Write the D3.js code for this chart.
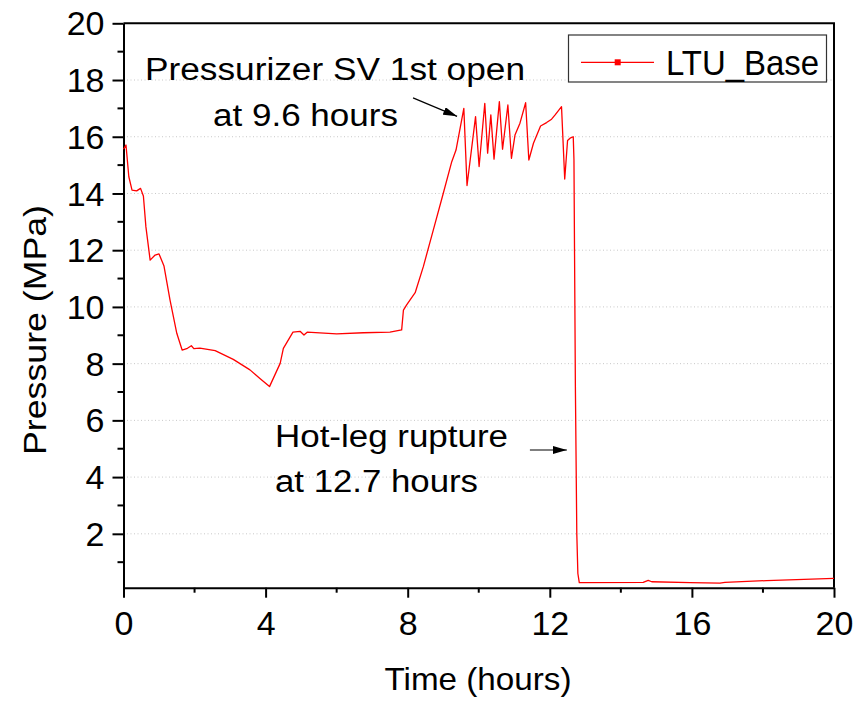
<!DOCTYPE html>
<html>
<head>
<meta charset="utf-8">
<script src="https://cdn.jsdelivr.net/npm/d3@7"></script>
<style>
  html, body { margin: 0; padding: 0; background: #fff; }
  svg { display: block; }
  text { font-family: "Liberation Sans", Arial, Helvetica, sans-serif; fill: #000; }
</style>
</head>
<body>
<svg id="chart" width="866" height="701"></svg>
<script>
// Pressurizer pressure history, LTU_Base case
const seriesName = "LTU_Base";
const timeHours = [
  0.00, 0.07, 0.15, 0.24, 0.37, 0.48, 0.56, 0.63, 0.75, 0.89,
  1.00, 1.14, 1.31, 1.50, 1.65, 1.80, 1.91, 1.98, 2.15, 2.58,
  3.09, 3.56, 3.84, 4.11, 4.41, 4.50, 4.77, 4.97, 5.08, 5.17,
  6.00, 6.75, 7.50, 7.83, 7.88, 7.97, 8.21, 8.44, 8.72, 9.00,
  9.24, 9.36, 9.58, 9.67, 9.91, 10.01, 10.17, 10.25, 10.34, 10.43,
  10.58, 10.67, 10.82, 10.92, 11.02, 11.16, 11.32, 11.41, 11.54, 11.74,
  11.91, 12.05, 12.15, 12.33, 12.42, 12.50, 12.57, 12.66, 12.68, 12.72,
  12.76, 12.79, 12.83, 14.63, 14.77, 14.87, 15.95, 16.79, 16.93, 18.10,
  20.00
];
const pressureMPa = [
  15.56, 15.71, 14.59, 14.12, 14.09, 14.18, 13.91, 12.83, 11.65, 11.83,
  11.87, 11.44, 10.24, 9.07, 8.48, 8.54, 8.63, 8.53, 8.55, 8.46,
  8.15, 7.78, 7.48, 7.19, 8.01, 8.54, 9.11, 9.14, 9.01, 9.11,
  9.05, 9.09, 9.11, 9.19, 9.89, 10.07, 10.50, 11.42, 12.71, 14.00,
  15.12, 15.53, 17.00, 14.28, 16.71, 14.95, 17.18, 15.42, 16.77, 15.21,
  17.24, 15.56, 17.12, 15.24, 16.06, 16.48, 17.20, 15.18, 15.77, 16.38,
  16.50, 16.62, 16.77, 17.06, 14.51, 15.87, 15.95, 16.00, 15.20, 7.20,
  2.00, 0.60, 0.28, 0.29, 0.36, 0.31, 0.28, 0.26, 0.29, 0.35,
  0.43
];
const xTicks = [0, 4, 8, 12, 16, 20];
const xMinorTicks = [2, 6, 10, 14, 18];
const yTicks = [2, 4, 6, 8, 10, 12, 14, 16, 18, 20];
const yMinorTicks = [1, 3, 5, 7, 9, 11, 13, 15, 17, 19];
const xTitle = "Time (hours)";
const yTitle = "Pressure (MPa)";
const svNote = ["Pressurizer SV 1st open", "at 9.6 hours"];
const ruptureNote = ["Hot-leg rupture", "at 12.7 hours"];

const svg = d3.select("#chart");
const plotL = 123.5, plotR = 834, plotT = 23.3, plotB = 587.7;

const x = d3.scaleLinear().domain([0, 20]).range([plotL, plotR]);
const y = d3.scaleLinear().domain([0.1, 20]).range([plotB, plotT]);

const defs = svg.append("defs");
defs.append("marker")
  .attr("id", "arrowHead")
  .attr("viewBox", "0 0 14 8")
  .attr("refX", 14).attr("refY", 4)
  .attr("markerWidth", 14).attr("markerHeight", 8)
  .attr("markerUnits", "userSpaceOnUse")
  .attr("orient", "auto")
  .append("path").attr("d", "M0,0 L14,4 L0,8 Z").attr("fill", "#000");

// dotted horizontal grid
svg.append("g")
  .selectAll("line")
  .data(yTicks.filter(v => v < 20))
  .join("line")
  .attr("x1", plotL).attr("x2", plotR)
  .attr("y1", d => y(d)).attr("y2", d => y(d))
  .attr("stroke", "#c8c8c8")
  .attr("stroke-width", 1)
  .attr("stroke-dasharray", "1,2.5");

// frame (top and right)
svg.append("path")
  .attr("d", `M${plotL},${plotT} H${plotR} V${plotB}`)
  .attr("fill", "none").attr("stroke", "#000").attr("stroke-width", 2);

// bottom axis
const xAxis = svg.append("g").attr("transform", `translate(0,${plotB})`)
  .call(d3.axisBottom(x).tickValues(xTicks).tickSize(10).tickSizeOuter(0).tickPadding(13));
xAxis.append("g").selectAll("line").data(xMinorTicks).join("line")
  .attr("x1", d => x(d)).attr("x2", d => x(d))
  .attr("y1", 0).attr("y2", 5)
  .attr("stroke", "#000").attr("stroke-width", 2);

// left axis
const yAxis = svg.append("g").attr("transform", `translate(${plotL},0)`)
  .call(d3.axisLeft(y).tickValues(yTicks).tickSize(11).tickSizeOuter(0).tickPadding(8));
yAxis.append("g").selectAll("line").data(yMinorTicks).join("line")
  .attr("x1", 0).attr("x2", -6)
  .attr("y1", d => y(d)).attr("y2", d => y(d))
  .attr("stroke", "#000").attr("stroke-width", 2);

[xAxis, yAxis].forEach(g => {
  g.select(".domain").attr("stroke-width", 2);
  g.selectAll(".tick line").attr("stroke-width", 2);
  g.selectAll(".tick text").attr("font-size", 34)
    .attr("font-family", "'Liberation Sans', Arial, sans-serif").attr("fill", "#000");
});
xAxis.selectAll(".tick text").attr("dy", "0.71em");
yAxis.selectAll(".tick text").attr("dy", "0.34em");

// axis titles
svg.append("text")
  .attr("x", 478).attr("y", 690)
  .attr("text-anchor", "middle")
  .attr("font-size", 32)
  .attr("textLength", 187).attr("lengthAdjust", "spacingAndGlyphs")
  .text(xTitle);

svg.append("text")
  .attr("transform", "translate(46,330) rotate(-90)")
  .attr("text-anchor", "middle")
  .attr("font-size", 31)
  .attr("textLength", 250).attr("lengthAdjust", "spacingAndGlyphs")
  .text(yTitle);

// pressure curve
const pts = timeHours.map((t, i) => [t, pressureMPa[i]]);
svg.append("path")
  .datum(pts)
  .attr("fill", "none")
  .attr("stroke", "#ff0000")
  .attr("stroke-width", 1.3)
  .attr("stroke-linejoin", "round")
  .attr("d", d3.line().x(d => x(d[0])).y(d => y(d[1])));

// annotations
function note(lines, x0, baselines, widths) {
  lines.forEach((s, i) => {
    svg.append("text")
      .attr("x", x0[i]).attr("y", baselines[i])
      .attr("font-size", 31)
      .attr("textLength", widths[i]).attr("lengthAdjust", "spacingAndGlyphs")
      .text(s);
  });
}
note(svNote, [145, 213], [80, 126], [380, 185]);
note(ruptureNote, [275, 275], [447, 492], [233, 203]);

svg.append("line")
  .attr("x1", x(8.15)).attr("y1", y(17.37))
  .attr("x2", x(9.39)).attr("y2", y(16.72))
  .attr("stroke", "#000").attr("stroke-width", 1.2)
  .attr("marker-end", "url(#arrowHead)");
svg.append("line")
  .attr("x1", x(11.44)).attr("y1", y(4.955))
  .attr("x2", x(12.48)).attr("y2", y(4.955))
  .attr("stroke", "#000").attr("stroke-width", 1.2)
  .attr("marker-end", "url(#arrowHead)");

// legend
const lg = svg.append("g");
lg.append("rect")
  .attr("x", 568.5).attr("y", 35).attr("width", 258).attr("height", 47)
  .attr("fill", "#fff").attr("stroke", "#333").attr("stroke-width", 1.2);
lg.append("line")
  .attr("x1", 581).attr("x2", 654).attr("y1", 62.3).attr("y2", 62.3)
  .attr("stroke", "#ff0000").attr("stroke-width", 1.3);
lg.append("rect")
  .attr("x", 614.7).attr("y", 59.3).attr("width", 6).attr("height", 6)
  .attr("fill", "#ff0000");
lg.append("text")
  .attr("x", 666).attr("y", 75)
  .attr("font-size", 35)
  .attr("textLength", 153).attr("lengthAdjust", "spacingAndGlyphs")
  .text(seriesName);
</script>
</body>
</html>
